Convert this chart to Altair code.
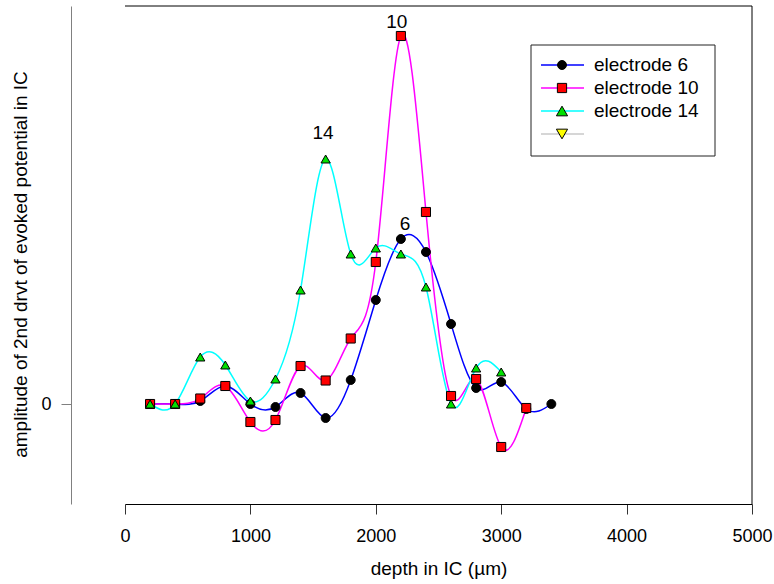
import altair as alt
import pandas as pd

# ---- data ----
depth = [200, 400, 600, 800, 1000, 1200, 1400, 1600, 1800, 2000, 2200, 2400, 2600, 2800, 3000, 3200, 3400]
e6 = [0, 0, 0.03, 0.18, 0, -0.03, 0.11, -0.14, 0.24, 1.04, 1.65, 1.52, 0.80, 0.16, 0.22, -0.05, 0]
e10 = [0, 0, 0.055, 0.18, -0.18, -0.16, 0.38, 0.235, 0.655, 1.42, 3.68, 1.92, 0.08, 0.25, -0.43, -0.04]
e14 = [0, 0, 0.47, 0.39, 0.03, 0.25, 1.14, 2.45, 1.50, 1.56, 1.50, 1.17, 0, 0.36, 0.32]

series_names = ["electrode 6", "electrode 10", "electrode 14"]
line_colors = ["#0000ff", "#ff00ff", "#00ffff"]
marker_fills = ["#000000", "#ff0000", "#00e000"]
marker_shapes = ["circle", "square", "triangle-up"]
marker_sizes = [80, 85, 125]

peak_labels = ["6", "10", "14"]
peak_x = [2233, 2167, 1579]
peak_y = [1.80, 3.825, 2.71]

legend_labels = ["electrode 6", "electrode 10", "electrode 14", ""]
legend_line_colors = ["#0000ff", "#ff00ff", "#00ffff", "#c8c8c8"]
legend_fills = ["#000000", "#ff0000", "#00e000", "#ffff00"]
legend_shapes = ["circle", "square", "triangle-up", "triangle-down"]
legend_sizes = [80, 85, 125, 125]

x_ticks = [0, 1000, 2000, 3000, 4000, 5000]
y_ticks = [0]

FONT = "Liberation Sans"

rows = []
for name, vals in zip(series_names, [e6, e10, e14]):
    for d, v in zip(depth, vals):
        rows.append({"series": name, "depth": d, "value": v})
df = pd.DataFrame(rows)

W, H = 627, 498

xenc = alt.X(
    "depth:Q",
    scale=alt.Scale(domain=[0, 5000], nice=False, zero=False),
    axis=alt.Axis(
        values=x_ticks, grid=False, tickSize=10, tickColor="#333333", domainColor="#000000",
        labelFont=FONT, labelFontSize=18, labelColor="#000000", labelPadding=13,
        labelFlush=False, labelOverlap=False, format="d",
        title="depth in IC (µm)", titleFont=FONT, titleFontSize=19, titleFontWeight="normal",
        titleColor="#000000", titleBaseline="top", titleY=55,
    ),
)
yenc = alt.Y(
    "value:Q",
    scale=alt.Scale(domain=[-1.0, 3.98], nice=False, zero=False),
    axis=alt.Axis(
        values=y_ticks, grid=False, offset=54, tickSize=10, tickColor="#808080", domainColor="#808080",
        labelFont=FONT, labelFontSize=18, labelColor="#000000", labelPadding=10, format="d",
        title="amplitude of 2nd drvt of evoked potential in IC", titleFont=FONT, titleFontSize=19,
        titleFontWeight="normal", titleColor="#000000", titleAngle=270, titleBaseline="middle",
        titleAlign="center", titleX=-51, titleY=258,
    ),
)

color_scale = alt.Scale(domain=series_names, range=line_colors)

lines = alt.Chart(df).mark_line(interpolate="natural", strokeWidth=1.5).encode(
    x=xenc, y=yenc,
    color=alt.Color("series:N", scale=color_scale, legend=None),
    order=alt.Order("depth:Q"),
)

points = alt.Chart(df).mark_point(filled=True, opacity=1, stroke="#000000", strokeWidth=1).encode(
    x="depth:Q", y="value:Q",
    fill=alt.Fill("series:N", scale=alt.Scale(domain=series_names, range=marker_fills), legend=None),
    shape=alt.Shape("series:N", scale=alt.Scale(domain=series_names, range=marker_shapes), legend=None),
    size=alt.Size("series:N", scale=alt.Scale(domain=series_names, range=marker_sizes), legend=None),
)

peaks_df = pd.DataFrame({"label": peak_labels, "depth": peak_x, "value": peak_y})
peak_text = alt.Chart(peaks_df).mark_text(font=FONT, fontSize=19, color="#000000", baseline="middle", align="center").encode(
    x="depth:Q", y="value:Q", text="label:N"
)

one = pd.DataFrame({"k": [0]})
top_rule = alt.Chart(one).mark_rule(color="#000000", strokeWidth=1).encode(
    x=alt.value(0), x2=alt.value(W), y=alt.value(0)
)
right_rule = alt.Chart(one).mark_rule(color="#000000", strokeWidth=1).encode(
    x=alt.value(W), y=alt.value(0), y2=alt.value(H)
)

# legend box
lx0, lx1, ly0, ly1 = 406, 590, 39, 150
legend_layers = [
    alt.Chart(one).mark_rect(fill="#ffffff", stroke="#222222", strokeWidth=1).encode(
        x=alt.value(lx0), x2=alt.value(lx1), y=alt.value(ly0), y2=alt.value(ly1)
    )
]
for i, (lab, lc, lf, ls, lsz) in enumerate(zip(legend_labels, legend_line_colors, legend_fills, legend_shapes, legend_sizes)):
    yy = 59 + 23 * i
    legend_layers.append(
        alt.Chart(one).mark_rule(color=lc, strokeWidth=1.5).encode(
            x=alt.value(416), x2=alt.value(459), y=alt.value(yy)
        )
    )
    legend_layers.append(
        alt.Chart(one).mark_point(shape=ls, fill=lf, filled=True, opacity=1, stroke="#000000", strokeWidth=1, size=lsz).encode(
            x=alt.value(437), y=alt.value(yy)
        )
    )
    if lab:
        legend_layers.append(
            alt.Chart(pd.DataFrame({"label": [lab]})).mark_text(
                font=FONT, fontSize=19, color="#000000", align="left", baseline="middle"
            ).encode(x=alt.value(469), y=alt.value(yy), text="label:N")
        )

chart = alt.layer(top_rule, right_rule, lines, points, peak_text, *legend_layers).properties(
    width=W, height=H,
    autosize=alt.AutoSizeParams(type="none"),
    padding={"left": 125, "top": 6, "right": 22, "bottom": 80},
    background="#ffffff",
).configure_view(stroke=None)

chart.save("out.html", embed_options={"renderer": "svg", "actions": False})
